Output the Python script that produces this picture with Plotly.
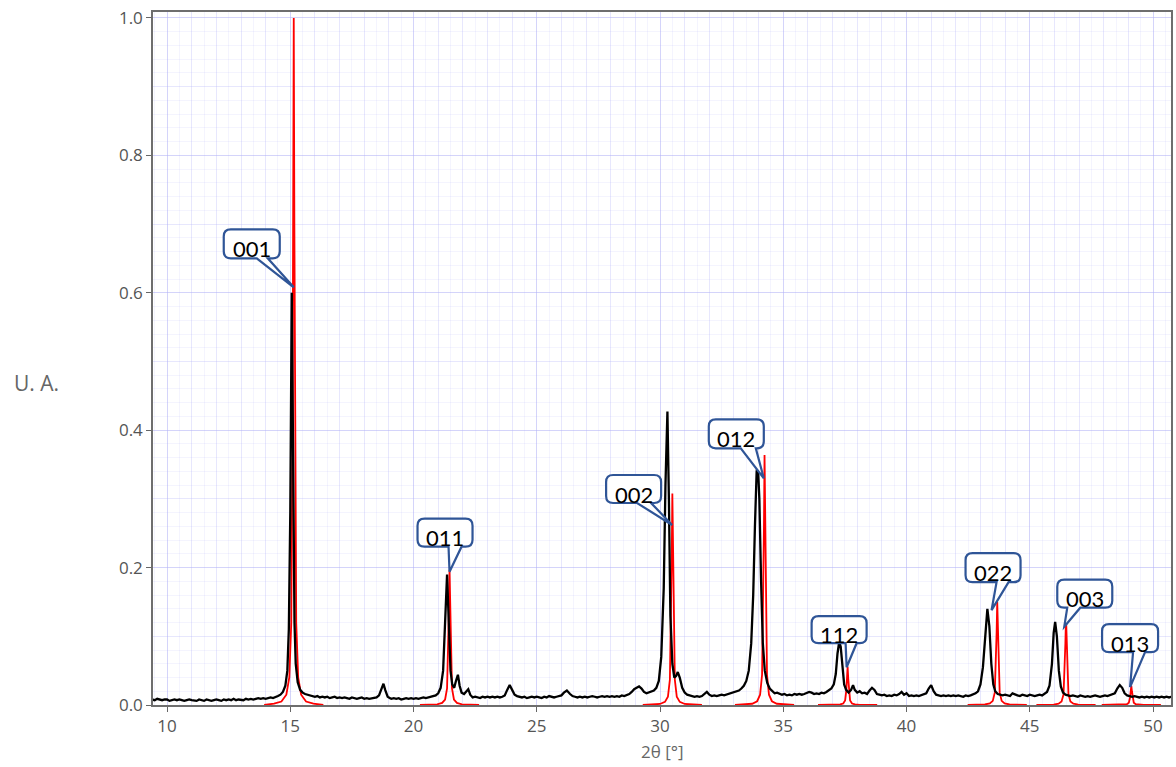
import plotly.graph_objects as go

# ---------------- data ----------------
black_points = [
    (9.4,0.008),(9.5,0.007),(9.6,0.009),(9.7,0.008),(9.8,0.007),(9.9,0.008),(10.0,0.008),(10.1,0.006),
    (10.2,0.007),(10.3,0.008),(10.4,0.007),(10.5,0.008),(10.6,0.007),(10.7,0.006),(10.8,0.007),(10.9,0.008),
    (11.0,0.007),(11.1,0.007),(11.2,0.006),(11.3,0.008),(11.4,0.007),(11.5,0.006),(11.6,0.008),(11.7,0.007),
    (11.8,0.006),(11.9,0.007),(12.0,0.008),(12.1,0.007),(12.2,0.006),(12.3,0.008),(12.4,0.007),(12.5,0.008),
    (12.6,0.007),(12.7,0.009),(12.8,0.007),(12.9,0.008),(13.0,0.008),(13.1,0.007),(13.2,0.009),(13.3,0.008),
    (13.4,0.009),(13.5,0.008),(13.6,0.009),(13.7,0.010),(13.8,0.009),(13.9,0.010),(14.0,0.009),(14.1,0.010),
    (14.2,0.011),(14.3,0.010),(14.4,0.011),(14.5,0.013),(14.6,0.015),(14.7,0.019),(14.8,0.028),(14.88,0.05),
    (14.94,0.11),(15.0,0.28),(15.06,0.60),(15.12,0.30),(15.17,0.12),(15.22,0.06),(15.3,0.033),(15.4,0.022),
    (15.5,0.018),(15.6,0.016),(15.7,0.015),(15.8,0.014),(15.9,0.013),(16.0,0.012),(16.1,0.013),(16.2,0.011),
    (16.3,0.012),(16.4,0.011),(16.5,0.012),(16.6,0.010),(16.7,0.011),(16.8,0.012),(16.9,0.010),(17.0,0.011),
    (17.1,0.010),(17.2,0.011),(17.3,0.010),(17.4,0.009),(17.5,0.011),(17.6,0.010),(17.7,0.009),(17.8,0.010),
    (17.9,0.011),(18.0,0.009),(18.1,0.010),(18.2,0.009),(18.3,0.010),(18.4,0.011),(18.5,0.011),(18.6,0.014),
    (18.7,0.024),(18.78,0.031),(18.85,0.022),(18.95,0.012),(19.05,0.010),(19.1,0.009),(19.2,0.010),(19.3,0.009),
    (19.4,0.010),(19.5,0.008),(19.6,0.009),(19.7,0.010),(19.8,0.009),(19.9,0.010),(20.0,0.009),(20.1,0.010),
    (20.2,0.009),(20.3,0.010),(20.4,0.011),(20.5,0.010),(20.6,0.011),(20.7,0.012),(20.8,0.013),(20.9,0.014),
    (21.0,0.017),(21.1,0.025),(21.2,0.05),(21.28,0.11),(21.36,0.19),(21.43,0.12),(21.5,0.05),(21.57,0.03),
    (21.65,0.025),(21.72,0.035),(21.8,0.044),(21.87,0.028),(21.95,0.018),(22.05,0.016),(22.15,0.020),(22.22,0.023),
    (22.3,0.015),(22.4,0.011),(22.5,0.012),(22.6,0.011),(22.7,0.010),(22.8,0.012),(22.9,0.011),(23.0,0.012),
    (23.1,0.011),(23.2,0.012),(23.3,0.011),(23.4,0.012),(23.5,0.011),(23.6,0.012),(23.7,0.014),(23.8,0.022),
    (23.9,0.029),(24.0,0.022),(24.1,0.015),(24.2,0.013),(24.3,0.012),(24.4,0.011),(24.5,0.012),(24.6,0.010),
    (24.7,0.011),(24.8,0.012),(24.9,0.011),(25.0,0.012),(25.1,0.011),(25.2,0.010),(25.3,0.012),(25.4,0.011),
    (25.5,0.013),(25.6,0.012),(25.7,0.011),(25.8,0.012),(25.9,0.013),(26.0,0.014),(26.1,0.018),(26.22,0.021),
    (26.35,0.016),(26.45,0.013),(26.55,0.012),(26.65,0.011),(26.75,0.012),(26.85,0.011),(26.95,0.012),(27.05,0.011),
    (27.15,0.012),(27.25,0.013),(27.35,0.012),(27.45,0.011),(27.55,0.012),(27.65,0.013),(27.75,0.012),(27.85,0.013),
    (27.95,0.012),(28.05,0.013),(28.15,0.012),(28.25,0.013),(28.35,0.012),(28.45,0.014),(28.55,0.013),(28.65,0.014),
    (28.75,0.016),(28.85,0.019),(28.95,0.023),(29.05,0.025),(29.15,0.027),(29.25,0.024),(29.35,0.019),(29.45,0.017),
    (29.55,0.018),(29.65,0.019),(29.75,0.021),(29.85,0.025),(29.95,0.035),(30.05,0.07),(30.15,0.17),(30.22,0.32),
    (30.3,0.427),(30.36,0.30),(30.42,0.13),(30.5,0.06),(30.58,0.04),(30.65,0.042),(30.72,0.048),(30.8,0.04),
    (30.9,0.025),(31.0,0.018),(31.1,0.015),(31.2,0.014),(31.3,0.013),(31.4,0.012),(31.5,0.013),(31.6,0.012),
    (31.7,0.013),(31.8,0.016),(31.9,0.019),(32.0,0.015),(32.1,0.013),(32.2,0.014),(32.3,0.013),(32.4,0.014),
    (32.5,0.015),(32.6,0.014),(32.7,0.015),(32.8,0.016),(32.9,0.017),(33.0,0.018),(33.1,0.019),(33.2,0.021),
    (33.3,0.024),(33.4,0.028),(33.5,0.035),(33.6,0.05),(33.7,0.09),(33.78,0.16),(33.85,0.26),(33.92,0.34),
    (33.97,0.35),(34.03,0.30),(34.1,0.18),(34.17,0.09),(34.25,0.05),(34.35,0.032),(34.45,0.024),(34.55,0.020),
    (34.65,0.017),(34.75,0.018),(34.85,0.016),(34.95,0.015),(35.05,0.016),(35.15,0.014),(35.25,0.015),(35.35,0.014),
    (35.45,0.016),(35.55,0.015),(35.65,0.016),(35.75,0.015),(35.85,0.016),(35.95,0.017),(36.05,0.019),(36.15,0.018),
    (36.25,0.016),(36.35,0.017),(36.45,0.016),(36.55,0.018),(36.65,0.017),(36.75,0.019),(36.85,0.021),(36.95,0.024),
    (37.05,0.030),(37.13,0.045),(37.2,0.075),(37.27,0.092),(37.33,0.085),(37.4,0.05),(37.47,0.03),(37.55,0.022),
    (37.65,0.018),(37.75,0.022),(37.83,0.029),(37.9,0.022),(38.0,0.018),(38.1,0.020),(38.2,0.017),(38.3,0.018),
    (38.4,0.016),(38.5,0.021),(38.6,0.025),(38.7,0.022),(38.8,0.016),(38.9,0.015),(39.0,0.014),(39.1,0.015),
    (39.2,0.013),(39.3,0.014),(39.4,0.013),(39.5,0.015),(39.6,0.014),(39.7,0.016),(39.8,0.019),(39.9,0.015),
    (40.0,0.017),(40.1,0.013),(40.2,0.014),(40.3,0.013),(40.4,0.014),(40.5,0.013),(40.6,0.014),(40.7,0.015),
    (40.8,0.017),(40.9,0.024),(41.0,0.029),(41.1,0.020),(41.2,0.015),(41.3,0.014),(41.4,0.013),(41.5,0.014),
    (41.6,0.013),(41.7,0.014),(41.8,0.013),(41.9,0.014),(42.0,0.013),(42.1,0.014),(42.2,0.013),(42.3,0.012),
    (42.4,0.014),(42.5,0.013),(42.6,0.014),(42.7,0.015),(42.8,0.017),(42.9,0.020),(43.0,0.030),(43.1,0.055),
    (43.2,0.11),(43.28,0.14),(43.36,0.115),(43.44,0.06),(43.52,0.03),(43.6,0.020),(43.7,0.016),(43.8,0.015),
    (43.9,0.014),(44.0,0.015),(44.1,0.014),(44.2,0.013),(44.3,0.017),(44.4,0.015),(44.5,0.014),(44.6,0.013),
    (44.7,0.015),(44.8,0.014),(44.9,0.013),(45.0,0.015),(45.1,0.014),(45.2,0.013),(45.3,0.014),(45.4,0.015),
    (45.5,0.014),(45.6,0.016),(45.7,0.019),(45.8,0.028),(45.9,0.06),(45.97,0.105),(46.03,0.121),(46.1,0.10),
    (46.18,0.05),(46.26,0.027),(46.35,0.018),(46.45,0.015),(46.55,0.014),(46.65,0.013),(46.75,0.014),(46.85,0.013),
    (46.95,0.012),(47.05,0.014),(47.15,0.013),(47.25,0.012),(47.35,0.013),(47.45,0.012),(47.55,0.013),(47.65,0.014),
    (47.75,0.013),(47.85,0.012),(47.95,0.013),(48.05,0.014),(48.15,0.013),(48.25,0.014),(48.35,0.015),(48.45,0.017),
    (48.55,0.024),(48.65,0.029),(48.75,0.025),(48.85,0.017),(48.95,0.014),(49.05,0.013),(49.15,0.012),(49.25,0.013),
    (49.35,0.012),(49.45,0.011),(49.55,0.012),(49.65,0.011),(49.75,0.012),(49.85,0.011),(49.95,0.012),(50.05,0.011),
    (50.15,0.012),(50.25,0.011),(50.35,0.012),(50.45,0.011),(50.55,0.012),(50.65,0.011),(50.75,0.012),
]

# reference (red) pattern, one block per reflection
red_001 = [(13.94,0),(14.34,0.002),(14.64,0.005),(14.84,0.015),(14.96,0.04),(15.04,0.12),(15.09,0.4),(15.115,0.7),
           (15.14,1.0),(15.165,0.7),(15.19,0.4),(15.24,0.12),(15.32,0.04),(15.44,0.015),(15.64,0.005),(15.94,0.002),(16.34,0)]
red_011 = [(20.26,0),(20.66,0.0004),(20.96,0.001),(21.16,0.003),(21.28,0.008),(21.36,0.024),(21.41,0.079),(21.435,0.138),
           (21.46,0.197),(21.485,0.138),(21.51,0.079),(21.56,0.024),(21.64,0.008),(21.76,0.003),(21.96,0.001),(22.26,0.0004),(22.66,0)]
red_002 = [(29.30,0),(29.70,0.0006),(30.00,0.0015),(30.20,0.0046),(30.32,0.012),(30.40,0.037),(30.45,0.123),(30.475,0.216),
           (30.50,0.308),(30.525,0.216),(30.55,0.123),(30.60,0.037),(30.68,0.012),(30.80,0.0046),(31.00,0.0015),(31.30,0.0006),(31.70,0)]
red_012 = [(33.04,0),(33.44,0.0007),(33.74,0.0018),(33.94,0.0055),(34.06,0.015),(34.14,0.044),(34.19,0.146),(34.215,0.255),
           (34.24,0.364),(34.265,0.255),(34.29,0.146),(34.34,0.044),(34.42,0.015),(34.54,0.0055),(34.74,0.0018),(35.04,0.0007),(35.44,0)]
red_112 = [(36.41,0),(36.81,0.0001),(37.11,0.0003),(37.31,0.0008),(37.43,0.0022),(37.51,0.0067),(37.56,0.022),(37.585,0.039),
           (37.61,0.056),(37.635,0.039),(37.66,0.022),(37.71,0.0067),(37.79,0.0022),(37.91,0.0008),(38.11,0.0003),(38.41,0.0001),(38.81,0)]
red_022 = [(42.48,0),(42.88,0.0003),(43.18,0.00075),(43.38,0.0023),(43.50,0.006),(43.58,0.018),(43.63,0.06),(43.655,0.105),
           (43.68,0.15),(43.705,0.105),(43.73,0.06),(43.78,0.018),(43.86,0.006),(43.98,0.0023),(44.18,0.00075),(44.48,0.0003),(44.88,0)]
red_003 = [(45.27,0),(45.67,0.00026),(45.97,0.00064),(46.17,0.0019),(46.29,0.0051),(46.37,0.0154),(46.42,0.051),(46.445,0.09),
           (46.47,0.128),(46.495,0.09),(46.52,0.051),(46.57,0.0154),(46.65,0.0051),(46.77,0.0019),(46.97,0.00064),(47.27,0.00026),(47.67,0)]
red_013 = [(47.92,0),(48.32,0.0001),(48.62,0.0001),(48.82,0.0004),(48.94,0.0011),(49.02,0.0034),(49.07,0.011),(49.095,0.02),
           (49.12,0.028),(49.145,0.02),(49.17,0.011),(49.22,0.0034),(49.30,0.0011),(49.42,0.0004),(49.62,0.0001),(49.92,0.0001),(50.32,0)]
red_blocks = [red_001, red_011, red_002, red_012, red_112, red_022, red_003, red_013]

# callout labels (hkl) and the point each one designates
hkl_labels = ["001", "011", "002", "012", "112", "022", "003", "013"]
hkl_tip_x = [15.14, 21.46, 30.49, 34.21, 37.57, 43.45, 46.40, 49.07]
hkl_tip_y = [0.608, 0.194, 0.262, 0.330, 0.055, 0.138, 0.114, 0.026]

x_tick_values = [10, 15, 20, 25, 30, 35, 40, 45, 50]
y_tick_values = [0.0, 0.2, 0.4, 0.6, 0.8, 1.0]

# ---------------- styling ----------------
# callout box geometry in pixels relative to the tip: left, right, bottom, top, wedge start, wedge end
callout_geom = [(-70, -14, 29, 58, -37, -26), (-32, 23, 25, 53, -1, 12), (-66, -11, 22, 50, -35, -21),
                (-55, 0, 30, 59, -23, -8), (-35, 20, 24, 51, -1, 10), (-26, 29, 28, 57, 5, 17),
                (-7, 48, 19, 47, 3, 16), (-28, 28, 35, 63, 3, 15)]

GRID_MINOR = "rgba(185,185,250,0.16)"
GRID_MID = "rgba(185,185,250,0.22)"
GRID_MAJOR = "rgba(175,175,245,0.36)"
X_RANGE = [9.43, 50.73]
Y_RANGE = [0, 1.0087]

bx = [p[0] for p in black_points]
by = [p[1] for p in black_points]
rx, ry = [], []
for blk in red_blocks:
    rx += [p[0] for p in blk] + [None]
    ry += [p[1] for p in blk] + [None]

fig = go.Figure()
# dummy trace for the overlay grid axes
fig.add_trace(go.Scatter(x=[None], y=[None], xaxis="x2", yaxis="y2", showlegend=False, hoverinfo="skip"))
fig.add_trace(go.Scatter(x=rx, y=ry, mode="lines", line=dict(color="#ff0000", width=1.8),
                         showlegend=False, connectgaps=False))
fig.add_trace(go.Scatter(x=bx, y=by, mode="lines", line=dict(color="#000000", width=2.3),
                         showlegend=False))


def callout_path(L, R, B, T, w1, w2, r=7):
    return (f"M {L + r},{T} L {R - r},{T} Q {R},{T} {R},{T - r} L {R},{B + r} Q {R},{B} {R - r},{B} "
            f"L {w2},{B} L 0,0 L {w1},{B} L {L + r},{B} Q {L},{B} {L},{B + r} L {L},{T - r} Q {L},{T} {L + r},{T} Z")


shapes = []
annotations = []
for lab, tx, ty, g in zip(hkl_labels, hkl_tip_x, hkl_tip_y, callout_geom):
    L, R, B, T, w1, w2 = g
    shapes.append(dict(type="path", xref="x", yref="y", xsizemode="pixel", ysizemode="pixel",
                       xanchor=tx, yanchor=ty, path=callout_path(L, R, B, T, w1, w2),
                       line=dict(color="#2f5597", width=2.2), fillcolor="white", layer="above"))
    annotations.append(dict(x=tx, y=ty, xref="x", yref="y", text=lab, showarrow=False,
                            xanchor="center", yanchor="middle",
                            xshift=(L + R) / 2, yshift=(B + T) / 2 - 5,
                            font=dict(family="Lato, Noto Sans, sans-serif", size=22, color="black")))

annotations.append(dict(x=0.5, y=0, xref="paper", yref="paper", text="2θ [°]", showarrow=False,
                        xanchor="center", yanchor="middle", yshift=-46,
                        font=dict(family="Open Sans, sans-serif", size=17, color="#666666")))
annotations.append(dict(x=-0.1147, y=0.4646, xref="paper", yref="paper", text="U. A.", showarrow=False,
                        xanchor="center", yanchor="middle",
                        font=dict(family="Open Sans, sans-serif", size=21, color="#666666")))

axis_font = dict(family="Open Sans, sans-serif", size=17, color="#555555")
fig.update_layout(
    width=1176, height=767,
    margin=dict(l=153, r=3, t=12, b=62, pad=0),
    paper_bgcolor="white", plot_bgcolor="white",
    xaxis=dict(range=X_RANGE, tickmode="array", tickvals=x_tick_values, ticks="outside", ticklen=5,
               tickcolor="#666666", tickfont=axis_font, showline=True, linecolor="#6e6e6e", linewidth=1.5,
               mirror=True, zeroline=False, showgrid=True, gridcolor=GRID_MAJOR, gridwidth=1,
               minor=dict(dtick=0.5, tick0=0, showgrid=True, gridcolor=GRID_MINOR, gridwidth=1, ticks="")),
    yaxis=dict(range=Y_RANGE, tickmode="array", tickvals=y_tick_values, tickformat=".1f", ticks="outside",
               ticklen=5, tickcolor="#666666", tickfont=axis_font, showline=True, linecolor="#6e6e6e",
               linewidth=1.5, mirror=True, zeroline=False, showgrid=True, gridcolor=GRID_MAJOR, gridwidth=1,
               minor=dict(dtick=0.02, tick0=0, showgrid=True, gridcolor=GRID_MINOR, gridwidth=1, ticks="")),
    xaxis2=dict(range=X_RANGE, overlaying="x", anchor="y", dtick=1, tick0=0, showticklabels=False,
                ticks="", showgrid=True, gridcolor=GRID_MID, zeroline=False, showline=False),
    yaxis2=dict(range=Y_RANGE, overlaying="y", anchor="x", dtick=0.1, tick0=0, showticklabels=False,
                ticks="", showgrid=True, gridcolor=GRID_MID, zeroline=False, showline=False),
    shapes=shapes,
    annotations=annotations,
    showlegend=False,
)

fig.write_html("out.html")
